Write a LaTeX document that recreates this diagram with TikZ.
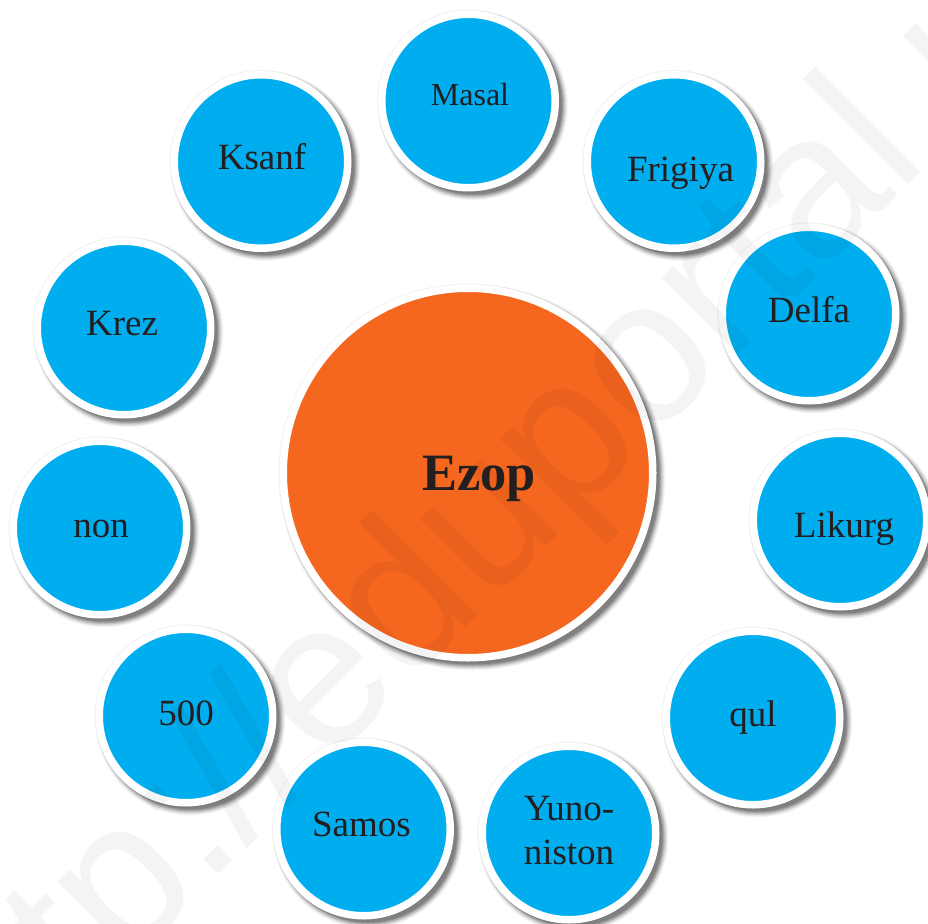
\documentclass[tikz,border=0pt]{standalone}
\usepackage{fontspec}
\setmainfont{Liberation Serif}
\newfontfamily\wmfont{Liberation Sans}
\definecolor{bubbleblue}{HTML}{00AEEF}
\definecolor{coreorange}{HTML}{F5661F}
\definecolor{inktext}{HTML}{231F20}
\newcommand{\softshadow}[3]{%
  \fill[black,opacity=0.05] (#1,#2) circle[radius=#3+1];
  \foreach \e/\o in {4.5/0.03,3.5/0.05,2.5/0.07,1.5/0.09,0.5/0.11,-0.5/0.13,-1.5/0.15}{
    \fill[black,opacity=\o] (#1+4.5,#2+4.5) circle[radius=#3+\e];
  }}
\tikzset{
  ringed/.style={circle,draw=white,line width=7.5pt,inner sep=0pt,outer sep=0pt,fill=bubbleblue,minimum size=173.5pt},
  corering/.style={ringed,fill=coreorange,minimum size=369.5pt},
  lbl/.style={anchor=base,text=inktext,font=\fontsize{37}{37}\selectfont,inner sep=0pt},
  marklayer/.style={anchor=base west,rotate=45,text=black,opacity=0.045,inner sep=0pt,font=\wmfont\fontsize{205}{205}\selectfont}
}
\begin{document}
\begin{tikzpicture}[x=1pt,y=-1pt]
\useasboundingbox (0,0) rectangle (928,923);
\fill[white] (0,0) rectangle (928,923);
\softshadow{468.5}{101}{90.5}
\softshadow{674}{161.5}{90.5}
\softshadow{809}{314}{90.5}
\softshadow{840}{520}{90.5}
\softshadow{753}{718}{90.5}
\softshadow{569}{833}{90.5}
\softshadow{363.5}{829}{90.5}
\softshadow{186}{716}{90.5}
\softshadow{100}{528}{90.5}
\softshadow{124}{328}{90.5}
\softshadow{261}{161.5}{90.5}
\softshadow{468}{473}{188.5}
\node[ringed] (masal) at (468.5,101) {};
\node[ringed] (frigiya) at (674,161.5) {};
\node[ringed] (delfa) at (809,314) {};
\node[ringed] (likurg) at (840,520) {};
\node[ringed] (qul) at (753,718) {};
\node[ringed] (yuno) at (569,833) {};
\node[ringed] (samos) at (363.5,829) {};
\node[ringed] (fivehundred) at (186,716) {};
\node[ringed] (non) at (100,528) {};
\node[ringed] (krez) at (124,328) {};
\node[ringed] (ksanf) at (261,161.5) {};
\node[corering] (ezop) at (468,473) {};
\node[marklayer] (mark) at (84,1009) {tp://eduportal.uz};
\node[lbl,font=\fontsize{32}{32}\selectfont] (tmasal) at (470,106) {Masal};
\node[lbl] (tfrigiya) at (680.5,181) {Frigiya};
\node[lbl] (tdelfa) at (809,322) {Delfa};
\node[lbl] (tlikurg) at (844,537) {Likurg};
\node[lbl] (tqul) at (753,726) {qul};
\node[lbl] (tyuno) at (569,820) {Yuno-};
\node[lbl] (tniston) at (569,864) {niston};
\node[lbl] (tsamos) at (361.5,836) {Samos};
\node[lbl] (tfive) at (186,725) {500};
\node[lbl] (tnon) at (101,537) {non};
\node[lbl] (tkrez) at (122,335) {Krez};
\node[lbl] (tksanf) at (262,169) {Ksanf};
\node[lbl,font=\bfseries\fontsize{52.5}{52.5}\selectfont] (tezop) at (479,490) {Ezop};
\end{tikzpicture}
\end{document}
